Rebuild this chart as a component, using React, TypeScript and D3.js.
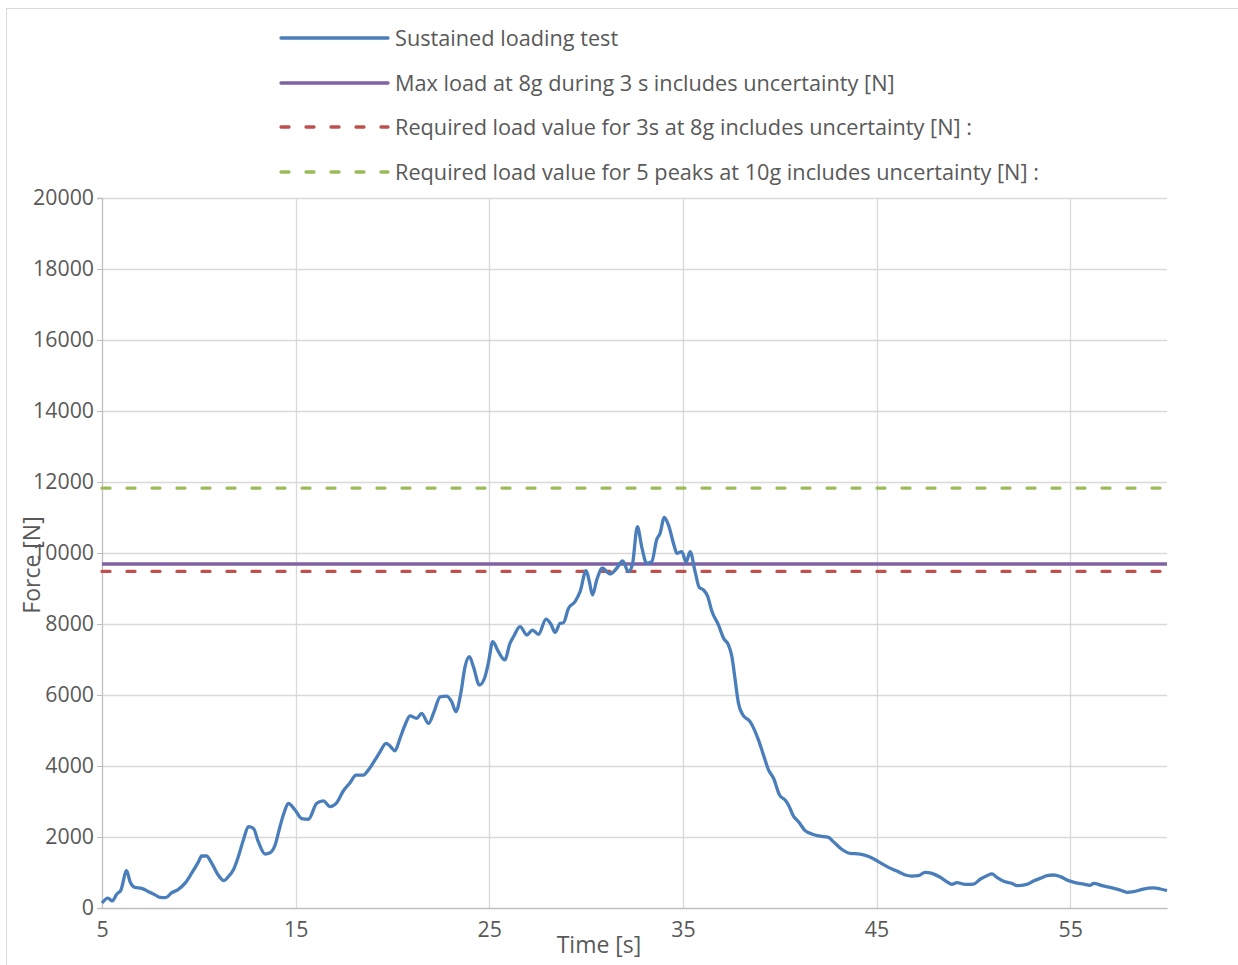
import React, { useEffect, useRef } from 'react';
import * as d3 from 'd3';

// Sustained loading test
const time = [
  5.0, 5.3, 5.53, 5.76, 5.98, 6.27, 6.45, 6.7, 7.05, 7.4, 7.74, 8.0, 8.29, 8.6, 8.91, 9.29, 9.63, 9.98,
  10.15, 10.4, 10.67, 11.0, 11.3, 11.52, 11.78, 12.04, 12.3, 12.56, 12.82, 13.07, 13.42, 13.68, 13.94,
  14.19, 14.42, 14.62, 14.97, 15.31, 15.66, 16.09, 16.43, 16.78, 17.12, 17.46, 17.81, 18.12, 18.5, 18.76,
  19.1, 19.36, 19.67, 19.88, 20.13, 20.39, 20.65, 20.91, 21.25, 21.51, 21.86, 22.15, 22.46, 22.8, 23.06,
  23.28, 23.53, 23.75, 23.97, 24.18, 24.49, 24.78, 24.95, 25.18, 25.47, 25.8, 26.07, 26.25, 26.59, 26.94,
  27.23, 27.54, 27.93, 28.18, 28.4, 28.66, 28.83, 29.09, 29.43, 29.69, 30.0, 30.17, 30.33, 30.55, 30.84,
  31.24, 31.58, 31.89, 32.18, 32.39, 32.65, 32.87, 33.13, 33.39, 33.65, 33.82, 34.04, 34.25, 34.56, 34.68,
  34.94, 35.17, 35.37, 35.63, 35.84, 36.06, 36.27, 36.5, 36.84, 37.1, 37.35, 37.53, 37.7, 37.87, 38.1,
  38.47, 38.9, 39.16, 39.42, 39.68, 39.99, 40.28, 40.45, 40.71, 40.97, 41.31, 41.66, 42.0, 42.52, 42.77,
  43.2, 43.64, 44.15, 44.63, 45.1, 45.62, 46.05, 46.48, 46.82, 47.16, 47.51, 47.86, 48.29, 48.63, 48.89,
  49.15, 49.58, 50.01, 50.35, 50.7, 50.96, 51.21, 51.64, 51.99, 52.25, 52.76, 53.11, 53.45, 53.8, 54.14,
  54.49, 54.92, 55.26, 55.7, 56.04, 56.21, 56.65, 57.16, 57.59, 57.93, 58.28, 58.71, 59.31, 59.66, 60.0,
];
const force = [
  140, 280, 200, 390, 510, 1050, 740, 580, 555, 460, 370, 300, 290, 430, 510, 700, 980, 1300,
  1465, 1465, 1260, 930, 770, 880, 1070, 1445, 1915, 2290, 2245, 1870, 1520, 1555, 1775,
  2290, 2710, 2950, 2760, 2520, 2500, 2950, 3020, 2855, 2965, 3295, 3530, 3745, 3745, 3890,
  4170, 4400, 4640, 4560, 4430, 4780, 5155, 5410, 5340, 5485, 5200, 5530, 5950, 5970, 5810,
  5530, 6050, 6800, 7080, 6800, 6280, 6515, 6890, 7500, 7220, 6990, 7455, 7640, 7925, 7690,
  7830, 7710, 8140, 8000, 7765, 8020, 8035, 8440, 8630, 8910, 9500, 9190, 8815, 9240, 9570,
  9410, 9570, 9775, 9475, 9665, 10740, 10180, 9710, 9755, 10385, 10555, 11005, 10790, 10180, 9990,
  10040, 9740, 10040, 9475, 9035, 8960, 8790, 8350, 7970, 7600, 7410, 7080, 6420, 5765, 5435,
  5250, 4735, 4310, 3890, 3655, 3185, 3040, 2900, 2590, 2430, 2180, 2085, 2030, 1990, 1870,
  1655, 1540, 1520, 1445, 1305, 1145, 1040, 930, 900, 910, 1005, 975, 865, 740, 665,
  715, 665, 675, 810, 910, 960, 865, 740, 695, 630, 665, 760, 835, 910, 930,
  885, 770, 715, 675, 640, 695, 630, 565, 505, 440, 460, 525, 565, 535, 490,
];

// constant reference levels
const seriesNames = [
  'Sustained loading test',
  'Max load at 8g during 3 s includes uncertainty [N]',
  'Required load value for 3s at 8g includes uncertainty [N] :',
  'Required load value for 5 peaks at 10g includes uncertainty [N] :',
];
const seriesColors = ['#4a7ebb', '#7f62a3', '#c0504d', '#9bbb59'];
const levelValues = [9690, 9480, 11830];

const xTicks = [5, 15, 25, 35, 45, 55];
const yTicks = [0, 2000, 4000, 6000, 8000, 10000, 12000, 14000, 16000, 18000, 20000];

const xTitle = 'Time [s]';
const yTitle = 'Force [N]';

export default function App() {
  const svgRef = useRef<SVGSVGElement>(null);

  useEffect(() => {
    if (!svgRef.current) return;
    const svg = d3.select(svgRef.current);
    svg.selectAll('*').remove();

    const font = '"Open Sans", "Noto Sans", sans-serif';
    const textColor = '#595959';

    const x = d3.scaleLinear().domain([5, 60]).range([102, 1167]);
    const y = d3.scaleLinear().domain([0, 20000]).range([908, 198]);

    // outer chart border
    svg.append('rect')
      .attr('x', 6.5).attr('y', 8.5)
      .attr('width', 1300).attr('height', 1000)
      .attr('fill', 'white')
      .attr('stroke', '#d9d9d9');

    // horizontal grid
    svg.append('g')
      .selectAll('line')
      .data(yTicks.slice(1))
      .enter()
      .append('line')
      .attr('x1', x(5)).attr('x2', x(60))
      .attr('y1', d => Math.round(y(d)) + 0.5)
      .attr('y2', d => Math.round(y(d)) + 0.5)
      .attr('stroke', '#d9d9d9')
      .attr('stroke-width', 1.3);

    // vertical grid
    svg.append('g')
      .selectAll('line')
      .data(xTicks.slice(1))
      .enter()
      .append('line')
      .attr('x1', d => Math.round(x(d)) + 0.5)
      .attr('x2', d => Math.round(x(d)) + 0.5)
      .attr('y1', y(20000)).attr('y2', y(0))
      .attr('stroke', '#d9d9d9')
      .attr('stroke-width', 1.3);

    // y axis
    const yAxis = svg.append('g')
      .attr('transform', `translate(${x(5)},0)`)
      .call(d3.axisLeft(y).tickValues(yTicks).tickSize(5).tickPadding(3).tickFormat(d => String(d)));
    yAxis.select('.domain').attr('stroke', '#bfbfbf').attr('stroke-width', 1.3);
    yAxis.selectAll('.tick line').attr('stroke', '#bfbfbf');
    yAxis.selectAll('text')
      .attr('fill', textColor)
      .style('font-family', font)
      .style('font-size', '21.3px');

    // x axis
    const xAxis = svg.append('g')
      .attr('transform', `translate(0,${y(0)})`)
      .call(d3.axisBottom(x).tickValues(xTicks).tickSize(0).tickPadding(14));
    xAxis.select('.domain').attr('stroke', '#bfbfbf').attr('stroke-width', 1.3);
    xAxis.selectAll('text')
      .attr('fill', textColor)
      .style('font-family', font)
      .style('font-size', '21.3px');

    // reference levels
    const dashed = [false, true, true];
    levelValues.forEach((v, i) => {
      svg.append('line')
        .attr('x1', x(5)).attr('x2', x(60))
        .attr('y1', y(v)).attr('y2', y(v))
        .attr('stroke', seriesColors[i + 1])
        .attr('stroke-width', 3.3)
        .attr('stroke-linecap', dashed[i] ? 'round' : 'butt')
        .attr('stroke-dasharray', dashed[i] ? '8,17' : null);
    });

    // measured force
    const pts = time.map((t, i) => [t, force[i]] as [number, number]);
    const line = d3.line<[number, number]>()
      .x(d => x(d[0]))
      .y(d => y(d[1]))
      .curve(d3.curveMonotoneX);
    svg.append('path')
      .datum(pts)
      .attr('fill', 'none')
      .attr('stroke', seriesColors[0])
      .attr('stroke-width', 3.3)
      .attr('stroke-linejoin', 'round')
      .attr('d', line);

    // legend
    const legendY = [38, 83, 127, 172];
    seriesNames.forEach((name, i) => {
      const g = svg.append('g').attr('transform', `translate(0,${legendY[i]})`);
      g.append('line')
        .attr('x1', 281).attr('x2', 388)
        .attr('stroke', seriesColors[i])
        .attr('stroke-width', 3.3)
        .attr('stroke-linecap', 'round')
        .attr('stroke-dasharray', i >= 2 ? '8,17' : null);
      g.append('text')
        .attr('x', 395)
        .attr('dy', '0.35em')
        .attr('fill', textColor)
        .style('font-family', font)
        .style('font-size', '21.7px')
        .text(name);
    });

    // axis titles
    svg.append('text')
      .attr('x', 599).attr('y', 945)
      .attr('dy', '0.35em')
      .attr('text-anchor', 'middle')
      .attr('fill', textColor)
      .style('font-family', font)
      .style('font-size', '23px')
      .text(xTitle);

    svg.append('text')
      .attr('transform', 'translate(32,565) rotate(-90)')
      .attr('dy', '0.35em')
      .attr('text-anchor', 'middle')
      .attr('fill', textColor)
      .style('font-family', font)
      .style('font-size', '23px')
      .text(yTitle);
  }, []);

  return (
    <svg
      ref={svgRef}
      width={1238}
      height={965}
      style={{ position: 'absolute', left: 0, top: 0, background: 'white' }}
    />
  );
}
